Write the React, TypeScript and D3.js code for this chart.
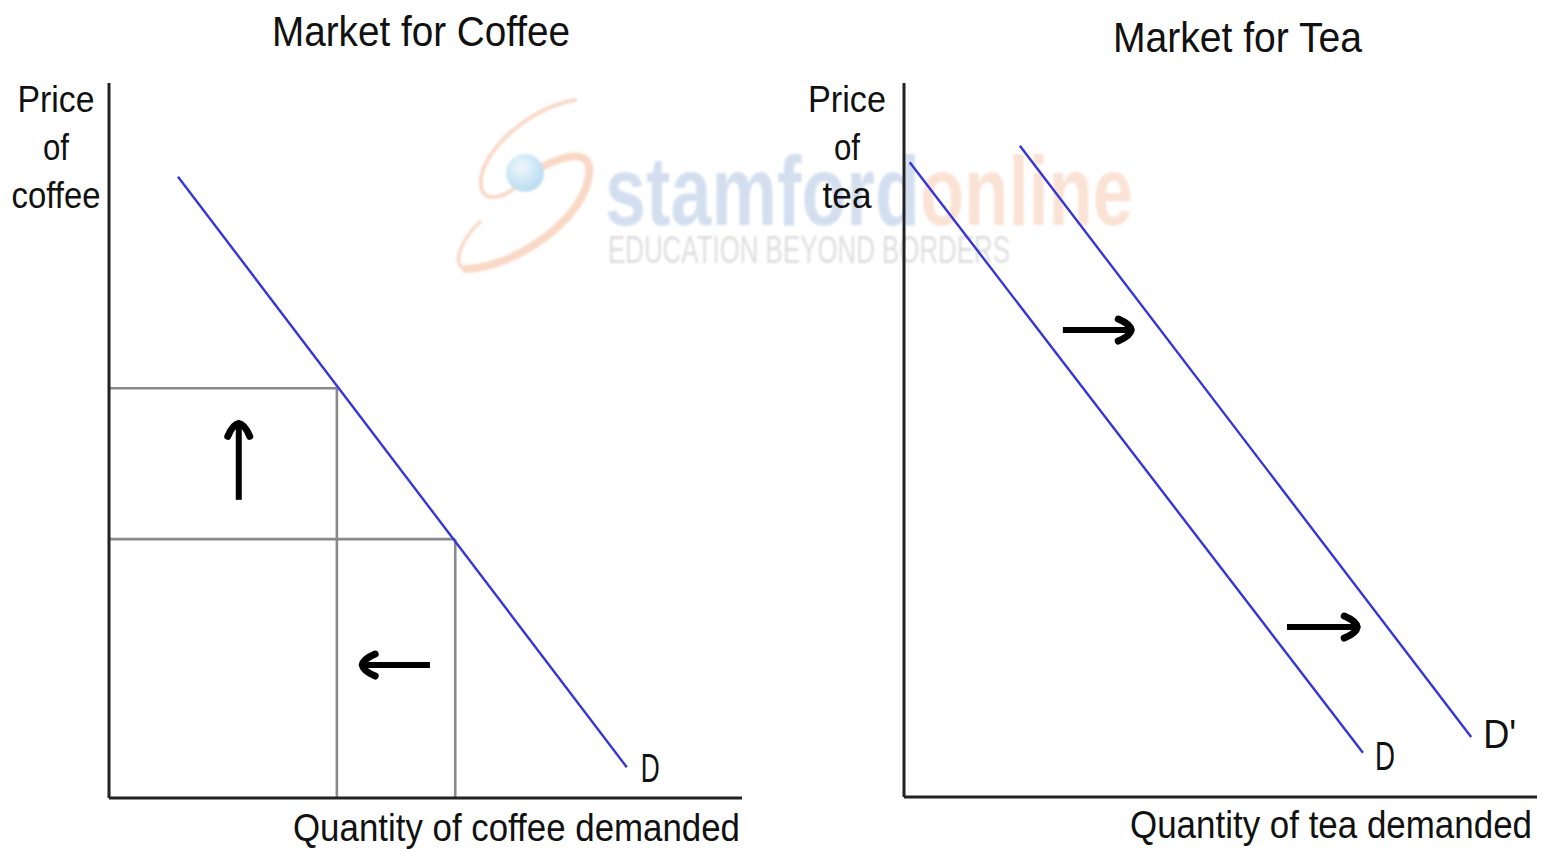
import React from "react";
import * as d3 from "d3";

// ---------- data (in chart units, 0-100 on each axis) ----------
const coffeeDemand = [
  { q: 10.9, p: 86.9 },
  { q: 81.8, p: 4.3 },
];
const coffeePriceLevels = [57.3, 36.2];
const coffeeQuantityLevels = [36.0, 54.7];
const coffeeArrows = [
  { from: { q: 20.5, p: 41.7 }, to: { q: 20.5, p: 52.4 } },
  { from: { q: 50.7, p: 18.6 }, to: { q: 40.0, p: 18.6 } },
];

const teaDemand = [
  { q: 0.9, p: 88.9 },
  { q: 72.5, p: 6.2 },
];
const teaDemandShifted = [
  { q: 18.3, p: 91.2 },
  { q: 89.6, p: 8.4 },
];
const teaArrows = [
  { from: { q: 25.1, p: 65.4 }, to: { q: 35.9, p: 65.4 } },
  { from: { q: 60.5, p: 23.8 }, to: { q: 71.6, p: 23.8 } },
];

const titles = ["Market for Coffee", "Market for Tea"];
const coffeeYLabel = ["Price", "of", "coffee"];
const teaYLabel = ["Price", "of", "tea"];
const xLabels = ["Quantity of coffee demanded", "Quantity of tea demanded"];
const curveLabels = ["D", "D", "D'"];

// ---------- scales ----------
const xC = d3.scaleLinear().domain([0, 100]).range([109, 742]);
const yC = d3.scaleLinear().domain([0, 100]).range([798, 83]);
const xT = d3.scaleLinear().domain([0, 100]).range([904, 1537]);
const yT = d3.scaleLinear().domain([0, 100]).range([797, 83]);

const FONT = "'Liberation Sans', Arial, sans-serif";
const BLUE = "#3535d8";
const GRAY = "#8a8a8a";

type Pt = { q: number; p: number };

function Arrow({ x1, y1, x2, y2 }: { x1: number; y1: number; x2: number; y2: number }) {
  const len = Math.hypot(x2 - x1, y2 - y1);
  const dx = (x2 - x1) / len;
  const dy = (y2 - y1) / len;
  const px = -dy;
  const py = dx;
  const back = 13;
  const wide = 11;
  const A = [x2 - back * dx + wide * px, y2 - back * dy + wide * py];
  const B = [x2 - back * dx - wide * px, y2 - back * dy - wide * py];
  const C1 = [x2 - 1 * dx + 6 * px, y2 - 1 * dy + 6 * py];
  const C2 = [x2 - 1 * dx - 6 * px, y2 - 1 * dy - 6 * py];
  return (
    <g>
      <line x1={x1} y1={y1} x2={x2 - 3 * dx} y2={y2 - 3 * dy} stroke="#000" strokeWidth={6} />
      <path
        d={`M${A[0]},${A[1]} Q${C1[0]},${C1[1]} ${x2},${y2} Q${C2[0]},${C2[1]} ${B[0]},${B[1]}`}
        fill="none"
        stroke="#000"
        strokeWidth={7}
        strokeLinecap="round"
        strokeLinejoin="round"
      />
    </g>
  );
}

function lineOf(pts: Pt[], xs: d3.ScaleLinear<number, number>, ys: d3.ScaleLinear<number, number>) {
  return d3
    .line<Pt>()
    .x((d) => xs(d.q))
    .y((d) => ys(d.p))(pts) as string;
}

function Txt({
  x,
  y,
  w,
  size,
  anchor = "start",
  children,
}: {
  x: number;
  y: number;
  w?: number;
  size: number;
  anchor?: string;
  children: React.ReactNode;
}) {
  return (
    <text
      x={x}
      y={y}
      fontSize={size}
      fontFamily={FONT}
      fill="#111"
      textAnchor={anchor}
      textLength={w}
      lengthAdjust={w ? "spacingAndGlyphs" : undefined}
    >
      {children}
    </text>
  );
}

export default function App() {
  const end = (pts: Pt[]) => pts[pts.length - 1];
  return (
    <svg
      width={1544}
      height={849}
      style={{ position: "absolute", left: 0, top: 0, background: "#fff" }}
    >
      <defs>
        <filter id="soft" x="-10%" y="-10%" width="120%" height="120%">
          <feGaussianBlur stdDeviation="1.2" />
        </filter>
        <radialGradient id="ball" cx="40%" cy="35%" r="65%">
          <stop offset="0%" stopColor="#eaf6fd" />
          <stop offset="100%" stopColor="#a9d3ee" />
        </radialGradient>
      </defs>

      {/* watermark */}
      <g filter="url(#soft)" opacity={0.8}>
        <path
          d="M575,100 C525,108 472,160 482,190 C487,202 503,197 515,188"
          fill="none"
          stroke="#f8cfb9"
          strokeWidth={4}
          strokeLinecap="round"
        />
        <path
          d="M540,168 C575,150 600,150 585,190 C570,228 510,268 466,269"
          fill="none"
          stroke="#f8cfb9"
          strokeWidth={8}
          strokeLinecap="round"
        />
        <path
          d="M466,269 C450,266 462,238 480,222"
          fill="none"
          stroke="#f8cfb9"
          strokeWidth={3.5}
          strokeLinecap="round"
        />
        <circle cx={525} cy={173} r={19} fill="url(#ball)" />
        <text x={605} y={225} fontSize={98} fontWeight="bold" fontFamily={FONT} fill="#c9d8ec" textLength={315} lengthAdjust="spacingAndGlyphs">
          stamford
        </text>
        <text x={920} y={225} fontSize={98} fontWeight="bold" fontFamily={FONT} fill="#fadbcb" textLength={213} lengthAdjust="spacingAndGlyphs">
          online
        </text>
        <text x={608} y={263} fontSize={38} fontFamily={FONT} fill="#d6d6d6" textLength={402} lengthAdjust="spacingAndGlyphs">
          EDUCATION BEYOND BORDERS
        </text>
      </g>

      {/* ---------- Coffee panel ---------- */}
      <Txt x={272} y={46} w={298} size={42}>{titles[0]}</Txt>
      {coffeeYLabel.map((t, i) => (
        <Txt key={t} x={56} y={112 + i * 48} size={36} anchor="middle" w={[77, 26, 89][i]}>
          {t}
        </Txt>
      ))}
      <Txt x={293} y={841} w={447} size={38}>{xLabels[0]}</Txt>

      {/* guide lines */}
      {coffeePriceLevels.map((p, i) => (
        <line key={"h" + i} x1={xC(0)} x2={xC(coffeeQuantityLevels[i])} y1={yC(p)} y2={yC(p)} stroke={GRAY} strokeWidth={2.6} />
      ))}
      {coffeeQuantityLevels.map((q, i) => (
        <line key={"v" + i} x1={xC(q)} x2={xC(q)} y1={yC(coffeePriceLevels[i])} y2={yC(0)} stroke={GRAY} strokeWidth={2.6} />
      ))}

      <path d={lineOf(coffeeDemand, xC, yC)} stroke={BLUE} strokeWidth={2.4} fill="none" />
      <Txt x={xC(end(coffeeDemand).q) + 14} y={yC(end(coffeeDemand).p) + 15} size={40} w={19}>
        {curveLabels[0]}
      </Txt>

      {coffeeArrows.map((a, i) => (
        <Arrow key={i} x1={xC(a.from.q)} y1={yC(a.from.p)} x2={xC(a.to.q)} y2={yC(a.to.p)} />
      ))}

      {/* axes */}
      <line x1={xC(0)} x2={xC(0)} y1={yC(100)} y2={yC(0)} stroke="#222" strokeWidth={3} />
      <line x1={xC(0)} x2={xC(100)} y1={yC(0)} y2={yC(0)} stroke="#222" strokeWidth={3} />

      {/* ---------- Tea panel ---------- */}
      <Txt x={1113} y={52} w={249} size={42}>{titles[1]}</Txt>
      {teaYLabel.map((t, i) => (
        <Txt key={t} x={847} y={112 + i * 48} size={36} anchor="middle" w={[78, 26, 49][i]}>
          {t}
        </Txt>
      ))}
      <Txt x={1130} y={838} w={402} size={38}>{xLabels[1]}</Txt>

      <path d={lineOf(teaDemand, xT, yT)} stroke={BLUE} strokeWidth={2.4} fill="none" />
      <path d={lineOf(teaDemandShifted, xT, yT)} stroke={BLUE} strokeWidth={2.4} fill="none" />
      <Txt x={xT(end(teaDemand).q) + 12} y={yT(end(teaDemand).p) + 17} size={40} w={20}>
        {curveLabels[1]}
      </Txt>
      <Txt x={xT(end(teaDemandShifted).q) + 12} y={yT(end(teaDemandShifted).p) + 11} size={40} w={33}>
        {curveLabels[2]}
      </Txt>

      {teaArrows.map((a, i) => (
        <Arrow key={i} x1={xT(a.from.q)} y1={yT(a.from.p)} x2={xT(a.to.q)} y2={yT(a.to.p)} />
      ))}

      <line x1={xT(0)} x2={xT(0)} y1={yT(100)} y2={yT(0)} stroke="#222" strokeWidth={3} />
      <line x1={xT(0)} x2={xT(100)} y1={yT(0)} y2={yT(0)} stroke="#222" strokeWidth={3} />
    </svg>
  );
}
